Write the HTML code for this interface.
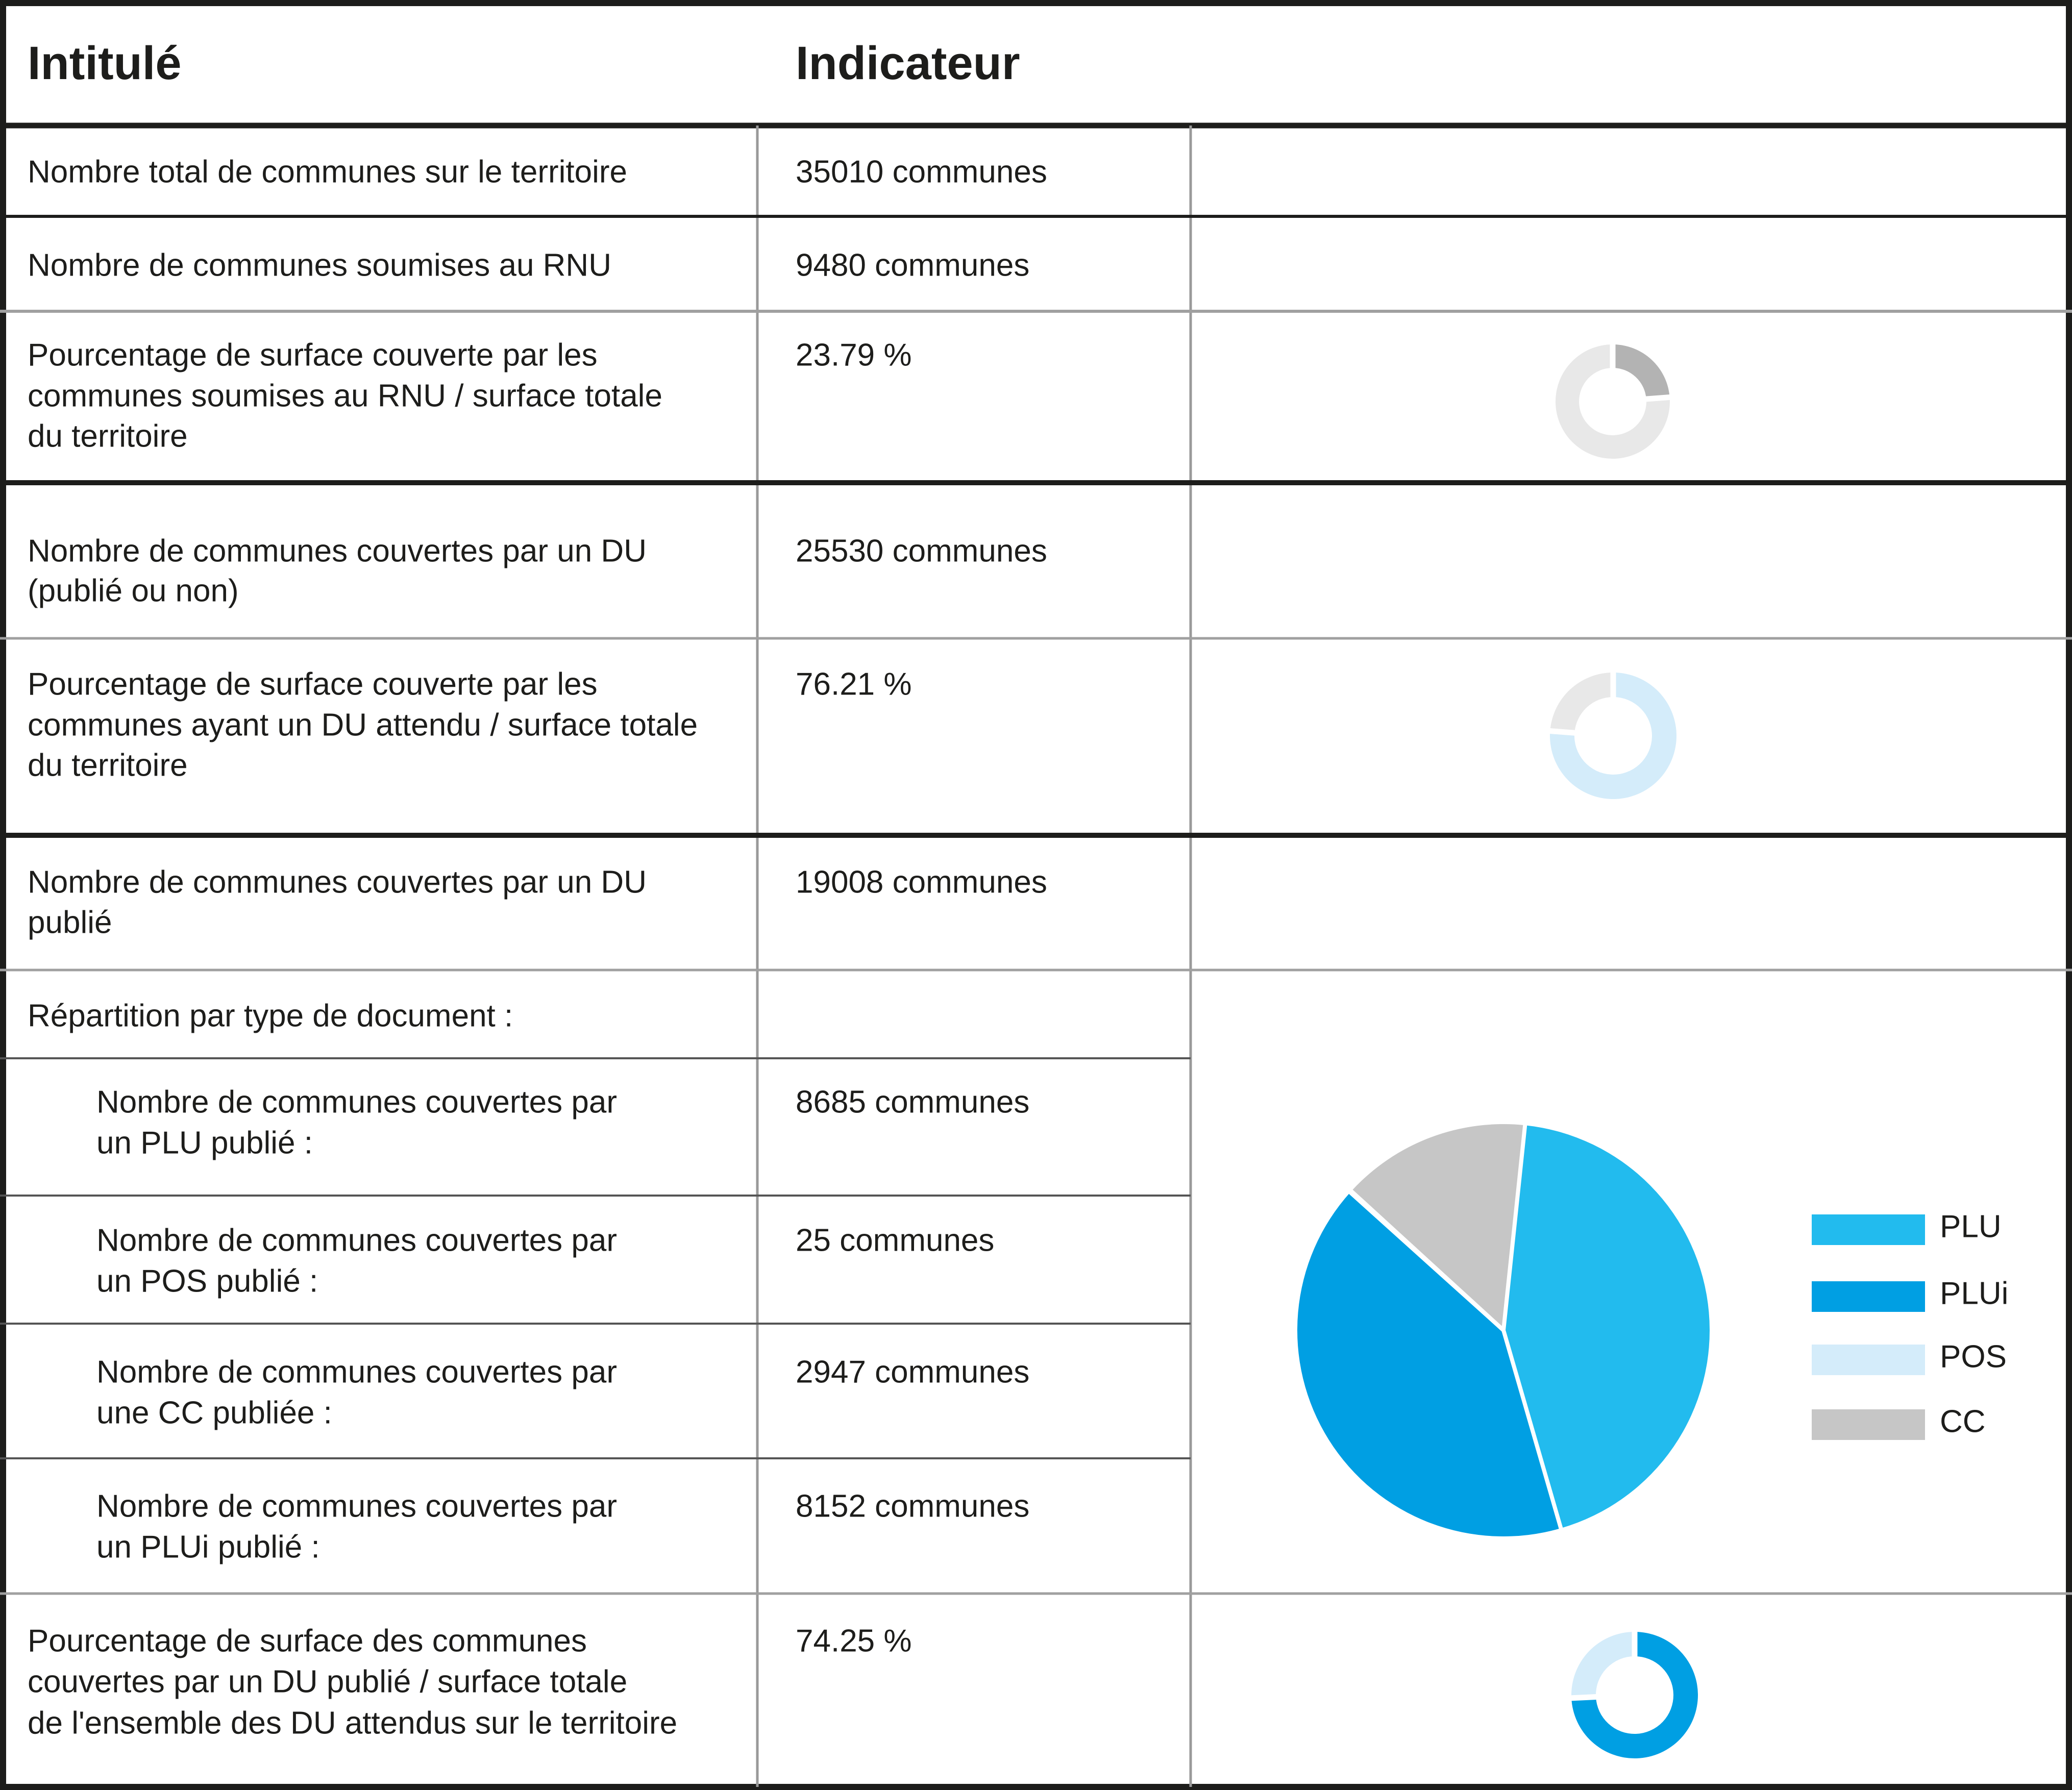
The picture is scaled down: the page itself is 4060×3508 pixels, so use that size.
<!DOCTYPE html>
<html><head><meta charset="utf-8"><style>
html,body{margin:0;padding:0;background:#fff}
svg{display:block}
text{font-family:"Liberation Sans",sans-serif;fill:#1d1d1b}
</style></head><body>
<svg id="s" width="4060" height="3508" viewBox="0 0 4060 3508">
<g id="lines">
<rect x="6" y="6" width="4048" height="3496" fill="none" stroke="#1d1d1b" stroke-width="12"/>
<line x1="0" y1="246" x2="4060" y2="246" stroke="#1d1d1b" stroke-width="11"/>
<line x1="1484" y1="246" x2="1484" y2="3502" stroke="#999" stroke-width="5"/>
<line x1="2333" y1="246" x2="2333" y2="3502" stroke="#999" stroke-width="5"/>
<line x1="0" y1="424" x2="4060" y2="424" stroke="#1d1d1b" stroke-width="6"/>
<line x1="0" y1="610" x2="4060" y2="610" stroke="#a0a0a0" stroke-width="6"/>
<line x1="0" y1="946" x2="4060" y2="946" stroke="#1d1d1b" stroke-width="10"/>
<line x1="0" y1="1251" x2="4060" y2="1251" stroke="#a0a0a0" stroke-width="5"/>
<line x1="0" y1="1637" x2="4060" y2="1637" stroke="#1d1d1b" stroke-width="10"/>
<line x1="0" y1="1901" x2="4060" y2="1901" stroke="#a0a0a0" stroke-width="5"/>
<line x1="0" y1="2074" x2="2333" y2="2074" stroke="#555" stroke-width="4"/>
<line x1="0" y1="2343" x2="2333" y2="2343" stroke="#555" stroke-width="4"/>
<line x1="0" y1="2594" x2="2333" y2="2594" stroke="#555" stroke-width="4"/>
<line x1="0" y1="2858" x2="2333" y2="2858" stroke="#555" stroke-width="4"/>
<line x1="0" y1="3123" x2="4060" y2="3123" stroke="#a0a0a0" stroke-width="5"/>
</g>
<g font-size="62" dominant-baseline="central">
<text x="54" y="124" font-size="92" font-weight="bold" dominant-baseline="central">Intitulé</text>
<text x="1559" y="124" font-size="92" font-weight="bold" dominant-baseline="central">Indicateur</text>
<text x="54" y="337" dominant-baseline="central">Nombre total de communes sur le territoire</text>
<text x="1559" y="337" dominant-baseline="central">35010 communes</text>
<text x="54" y="520" dominant-baseline="central">Nombre de communes soumises au RNU</text>
<text x="1559" y="520" dominant-baseline="central">9480 communes</text>
<text x="54" y="696" dominant-baseline="central">Pourcentage de surface couverte par les</text>
<text x="54" y="776" dominant-baseline="central">communes soumises au RNU / surface totale</text>
<text x="54" y="855" dominant-baseline="central">du territoire</text>
<text x="1559" y="696" dominant-baseline="central">23.79 %</text>
<text x="54" y="1080" dominant-baseline="central">Nombre de communes couvertes par un DU</text>
<text x="54" y="1158" dominant-baseline="central">(publié ou non)</text>
<text x="1559" y="1080" dominant-baseline="central">25530 communes</text>
<text x="54" y="1341" dominant-baseline="central">Pourcentage de surface couverte par les</text>
<text x="54" y="1421" dominant-baseline="central">communes ayant un DU attendu / surface totale</text>
<text x="54" y="1500" dominant-baseline="central">du territoire</text>
<text x="1559" y="1341" dominant-baseline="central">76.21 %</text>
<text x="54" y="1729" dominant-baseline="central">Nombre de communes couvertes par un DU</text>
<text x="54" y="1808" dominant-baseline="central">publié</text>
<text x="1559" y="1729" dominant-baseline="central">19008 communes</text>
<text x="54" y="1991" dominant-baseline="central">Répartition par type de document :</text>
<text x="189" y="2160" dominant-baseline="central">Nombre de communes couvertes par</text>
<text x="189" y="2240" dominant-baseline="central">un PLU publié :</text>
<text x="1559" y="2160" dominant-baseline="central">8685 communes</text>
<text x="189" y="2431" dominant-baseline="central">Nombre de communes couvertes par</text>
<text x="189" y="2511" dominant-baseline="central">un POS publié :</text>
<text x="1559" y="2431" dominant-baseline="central">25 communes</text>
<text x="189" y="2689" dominant-baseline="central">Nombre de communes couvertes par</text>
<text x="189" y="2769" dominant-baseline="central">une CC publiée :</text>
<text x="1559" y="2689" dominant-baseline="central">2947 communes</text>
<text x="189" y="2952" dominant-baseline="central">Nombre de communes couvertes par</text>
<text x="189" y="3032" dominant-baseline="central">un PLUi publié :</text>
<text x="1559" y="2952" dominant-baseline="central">8152 communes</text>
<text x="54" y="3216" dominant-baseline="central">Pourcentage de surface des communes</text>
<text x="54" y="3296" dominant-baseline="central">couvertes par un DU publié / surface totale</text>
<text x="54" y="3377" dominant-baseline="central">de l'ensemble des DU attendus sur le territoire</text>
<text x="1559" y="3216" dominant-baseline="central">74.25 %</text>
</g>
<g id="charts"></g>
</svg>
<script>
const donutValues = [23.79, 76.21, 74.25];
const donutColors = [["#b3b3b3","#e8e8e8"],["#d4ecfa","#e8e8e8"],["#009fe3","#d4ecfa"]];
const pieCategories = ["PLU","PLUi","POS","CC"];
const pieValues = [8685, 8152, 25, 2947];
const pieColors = ["#22bbee","#009fe3","#d4ecfa","#c6c6c6"];
const NS = "http://www.w3.org/2000/svg";
const g = document.getElementById("charts");
function pt(cx, cy, r, a){ const t = a*Math.PI/180; return [cx + r*Math.sin(t), cy - r*Math.cos(t)]; }
function arc(cx, cy, r0, r1, a0, a1){
  const large = (a1-a0) > 180 ? 1 : 0;
  const p0 = pt(cx,cy,r1,a0), p1 = pt(cx,cy,r1,a1);
  if (r0 <= 0) return `M${cx},${cy}L${p0}A${r1},${r1} 0 ${large} 1 ${p1}Z`;
  const q1 = pt(cx,cy,r0,a1), q0 = pt(cx,cy,r0,a0);
  return `M${p0}A${r1},${r1} 0 ${large} 1 ${p1}L${q1}A${r0},${r0} 0 ${large} 0 ${q0}Z`;
}
function sep(cx, cy, r, a, w){
  const l = document.createElementNS(NS, "line");
  const p = pt(cx, cy, r+4, a);
  l.setAttribute("x1", cx); l.setAttribute("y1", cy); l.setAttribute("x2", p[0]); l.setAttribute("y2", p[1]);
  l.setAttribute("stroke", "#fff"); l.setAttribute("stroke-width", w);
  
  
  g.appendChild(l);
}
const donutGeom = [[3160,787,66,112],[3161,1442,76,124],[3203,3322,76,124]];
const donutNames = ["rnu-surface-donut","du-surface-donut","du-publie-surface-donut"];
donutValues.forEach((v, i) => {
  const [cx, cy, r0, r1] = donutGeom[i];
  const a = v/100*360;
  const segs = [[0, a, donutColors[i][0]], [a, 360, donutColors[i][1]]];
  segs.forEach((s, j) => {
    const p = document.createElementNS(NS, "path");
    p.setAttribute("d", arc(cx, cy, r0, r1, s[0], Math.min(s[1], 359.99)));
    p.setAttribute("fill", s[2]);
    
    
    g.appendChild(p);
  });
  sep(cx, cy, r1, 0, 11);
  sep(cx, cy, r1, a, 11);
});
const total = pieValues.reduce((a, b) => a + b, 0);
let ang = 6;
const pcx = 2946, pcy = 2607, pr = 404;
const bounds = [];
pieValues.forEach((v, i) => {
  const a1 = ang + v/total*360;
  const p = document.createElementNS(NS, "path");
  p.setAttribute("d", arc(pcx, pcy, 0, pr, ang, a1));
  p.setAttribute("fill", pieColors[i]);
  
  
  g.appendChild(p);
  bounds.push(ang);
  ang = a1;
});
bounds.forEach(a => sep(pcx, pcy, pr, a, 8));
const legY = [2410, 2541, 2665, 2792];
pieCategories.forEach((c, i) => {
  const r = document.createElementNS(NS, "rect");
  r.setAttribute("x", 3550); r.setAttribute("y", legY[i] - 30);
  r.setAttribute("width", 222); r.setAttribute("height", 60);
  r.setAttribute("fill", pieColors[i]);
  
  
  g.appendChild(r);
  const t = document.createElementNS(NS, "text");
  t.setAttribute("x", 3801); t.setAttribute("y", legY[i] - 6);
  t.setAttribute("font-size", 62);
  t.setAttribute("dominant-baseline", "central");
  t.textContent = c;
  
  
  g.appendChild(t);
});
</script>
</body></html>
